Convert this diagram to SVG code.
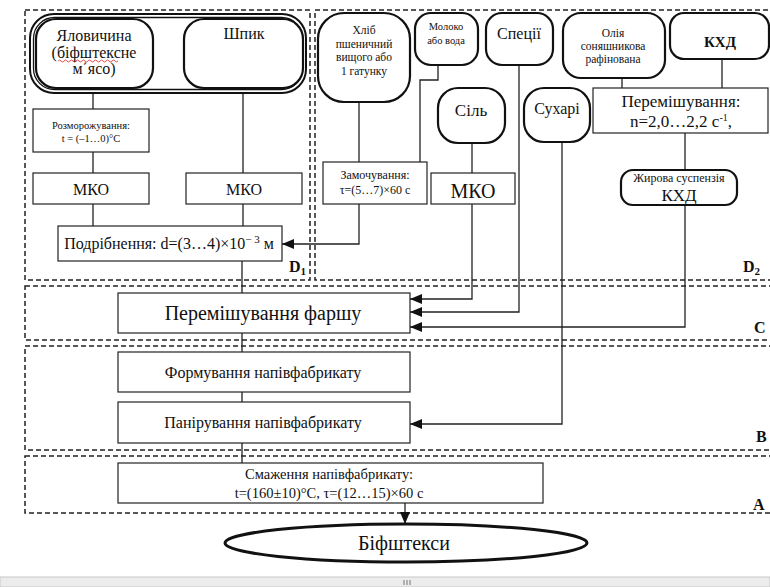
<svg xmlns="http://www.w3.org/2000/svg" width="770" height="587" viewBox="0 0 770 587" font-family="'Liberation Serif', 'DejaVu Serif', serif">
<style>
text{font-family:'Liberation Serif','DejaVu Serif',serif;fill:#111;text-anchor:middle}
.zone{fill:none;stroke:#222;stroke-width:1.5;stroke-dasharray:5 3}
.box{fill:#fff;stroke:#222;stroke-width:1.2}
.rnd{fill:#fff;stroke:#111;stroke-width:2.2}
.ln{fill:none;stroke:#222;stroke-width:1.3}
.lbl{font-weight:bold;font-size:16px;text-anchor:start}
</style>
<defs>
<marker id="ah" viewBox="0 0 12 10" refX="12" refY="5" markerWidth="12" markerHeight="10" markerUnits="userSpaceOnUse" orient="auto">
<path d="M0,0 L12,5 L0,10 Z" fill="#111"/>
</marker>
</defs>
<rect width="770" height="587" fill="#fff"/>

<g id="zones">
<rect class="zone" x="25" y="10" width="285" height="270"/>
<rect class="zone" x="315" y="10" width="470" height="270"/>
<rect class="zone" x="25" y="286" width="760" height="54"/>
<rect class="zone" x="25" y="346" width="760" height="104"/>
<rect class="zone" x="25" y="456" width="760" height="57"/>
<text class="lbl" x="289" y="272">D<tspan font-size="11" dy="3">1</tspan></text>
<text class="lbl" x="743" y="272">D<tspan font-size="11" dy="3">2</tspan></text>
<text class="lbl" x="754" y="333">C</text>
<text class="lbl" x="756" y="442">B</text>
<text class="lbl" x="753" y="510">A</text>
</g>

<g id="connectors">
<path class="ln" d="M93,88 V109 M93,152 V173 M93,204 V226"/>
<path class="ln" d="M243,88 V173 M243,204 V226"/>
<path class="ln" d="M242,261 V293 M242,333 V352 M242,392 V402 M242,443 V463"/>
<path class="ln" d="M359,102 V162"/>
<path class="ln" d="M438,65 V80 H420 V162"/>
<path class="ln" d="M359,204 V244 H282" marker-end="url(#ah)"/>
<path class="ln" d="M472,143 V173"/>
<path class="ln" d="M472,204 V299 H410" marker-end="url(#ah)"/>
<path class="ln" d="M519,65 V312 H410" marker-end="url(#ah)"/>
<path class="ln" d="M685,205 V327 H410" marker-end="url(#ah)"/>
<path class="ln" d="M562,142 V424 H410" marker-end="url(#ah)"/>
<path class="ln" d="M622,78 V88 M722,59 V88"/>
<path class="ln" d="M685,133 V170"/>
<path class="ln" d="M405,503 V524" marker-end="url(#ah)"/>
</g>

<g id="raw">
<rect x="30" y="14" width="276" height="79" rx="24" fill="#fff" stroke="#111" stroke-width="2"/>
<rect x="33.5" y="17.5" width="269" height="72" rx="21" fill="none" stroke="#111" stroke-width="1.3"/>
<g id="n-beef">
<rect class="rnd" x="36" y="19" width="117" height="69" rx="20"/>
<text font-size="16" x="94" y="41">Яловичина</text>
<text font-size="16" x="94" y="58">(біфштексне</text>
<text font-size="16" x="94" y="74">м΄ясо)</text>
<path d="M58,61 q1.5,-2 3,0 t3,0 t3,0 t3,0 t3,0 t3,0 t3,0 t3,0 t3,0 t3,0 t3,0 t3,0 t3,0 t3,0 t3,0 t3,0 t3,0 t3,0 t3,0 t3,0" fill="none" stroke="#d22" stroke-width="0.8"/>
</g>
<g id="n-shpyk">
<rect class="rnd" x="184" y="19" width="119" height="69" rx="20"/>
<text font-size="16" x="244" y="39">Шпик</text>
</g>
</g>

<g id="n-thaw">
<rect class="box" x="33" y="109" width="116" height="43"/>
<text font-size="10.5" x="91" y="129">Розморожування:</text>
<text font-size="10.5" x="91" y="142">t = (–1…0)°С</text>
</g>
<g id="n-mko1">
<rect class="box" x="33" y="173" width="116" height="31"/>
<text font-size="16" x="91" y="195">МКО</text>
</g>
<g id="n-mko2">
<rect class="box" x="186" y="173" width="116" height="31"/>
<text font-size="16" x="244" y="195">МКО</text>
</g>
<g id="n-grind">
<rect class="box" x="58" y="226" width="224" height="35"/>
<text font-size="16" x="169" y="249">Подрібнення: d=(3…4)×10<tspan font-size="11" dy="-6">− 3</tspan><tspan dy="6"> м</tspan></text>
</g>

<g id="n-bread">
<rect class="rnd" x="318" y="13" width="92" height="89" rx="26"/>
<text font-size="11.5" x="364" y="34">Хліб</text>
<text font-size="11.5" x="364" y="48">пшеничний</text>
<text font-size="11.5" x="364" y="61">вищого або</text>
<text font-size="11.5" x="364" y="75">1 гатунку</text>
</g>
<g id="n-milk">
<rect class="rnd" x="415" y="13" width="63" height="52" rx="16"/>
<text font-size="10.5" x="446" y="30">Молоко</text>
<text font-size="10.5" x="446" y="44">або вода</text>
</g>
<g id="n-spices">
<rect class="rnd" x="486" y="13" width="67" height="52" rx="16"/>
<text font-size="16" x="519" y="39">Спеції</text>
</g>
<g id="n-salt">
<rect class="rnd" x="438" y="88" width="67" height="55" rx="20"/>
<text font-size="17" x="471" y="116">Сіль</text>
</g>
<g id="n-crumbs">
<rect class="rnd" x="524" y="88" width="66" height="54" rx="20"/>
<text font-size="16" x="557" y="114">Сухарі</text>
</g>
<g id="n-oil">
<rect class="rnd" x="563" y="13" width="102" height="65" rx="18"/>
<text font-size="11.5" x="613" y="37">Олія</text>
<text font-size="11.5" x="613" y="50">соняшникова</text>
<text font-size="11.5" x="613" y="63">рафінована</text>
</g>
<g id="n-khd">
<rect class="rnd" x="670" y="13" width="99" height="46" rx="14"/>
<text font-size="15" font-weight="bold" x="720" y="47">КХД</text>
</g>
<g id="n-mix1">
<rect class="box" x="593" y="88" width="175" height="45"/>
<text font-size="17" x="681" y="107">Перемішування:</text>
<text font-size="17" x="681" y="127">n=2,0…2,2 с<tspan font-size="10" dy="-6">-1</tspan><tspan dy="6">,</tspan></text>
</g>
<g id="n-soak">
<rect class="box" x="323" y="162" width="104" height="42"/>
<text font-size="12" x="375" y="179">Замочування:</text>
<text font-size="12" x="375" y="194">τ=(5…7)×60  с</text>
</g>
<g id="n-mko3">
<rect class="box" x="431" y="173" width="84" height="31"/>
<text font-size="20" x="473" y="198">МКО</text>
</g>
<g id="n-fat">
<rect class="rnd" x="621" y="170" width="116" height="35" rx="12"/>
<text font-size="12" x="679" y="182">Жирова суспензія</text>
<text font-size="17" x="679" y="201">КХД</text>
</g>

<g id="n-mix2">
<rect class="box" x="118" y="293" width="292" height="40"/>
<text font-size="20" x="263" y="320">Перемішування фаршу</text>
</g>
<g id="n-form">
<rect class="box" x="118" y="352" width="292" height="40"/>
<text font-size="16" x="263" y="378">Формування напівфабрикату</text>
</g>
<g id="n-bread2">
<rect class="box" x="118" y="402" width="292" height="41"/>
<text font-size="16" x="263" y="428">Панірування напівфабрикату</text>
</g>
<g id="n-fry">
<rect class="box" x="118" y="463" width="425" height="40"/>
<text font-size="14.5" x="329" y="479">Смаження напівфабрикату:</text>
<text font-size="14.5" x="329" y="498">t=(160±10)°С, τ=(12…15)×60 с</text>
</g>
<g id="n-result">
<ellipse cx="406" cy="543" rx="181" ry="19" fill="#fff" stroke="#111" stroke-width="3"/>
<text font-size="20" x="404" y="550">Біфштекси</text>
</g>

<g id="scrollbar">
<rect x="0" y="577" width="770" height="10" fill="#ececec" stroke="#c8c8c8" stroke-width="1"/>
<path d="M404,580 V585 M407,580 V585 M410,580 V585" stroke="#777" stroke-width="1"/>
</g>
</svg>
